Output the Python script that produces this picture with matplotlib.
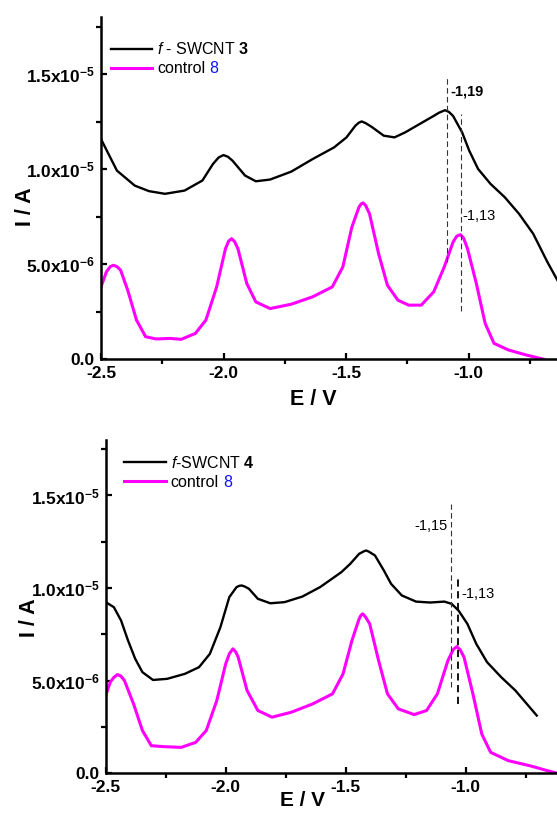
import numpy as np
import matplotlib
matplotlib.use("Agg")
import matplotlib.pyplot as plt
from matplotlib.ticker import MultipleLocator
from matplotlib.lines import Line2D

plt.rcParams['font.family'] = ['Liberation Sans', 'DejaVu Sans']
plt.rcParams['mathtext.fontset'] = 'custom'
plt.rcParams['mathtext.rm'] = 'Liberation Sans'
plt.rcParams['mathtext.it'] = 'Liberation Sans:italic'
plt.rcParams['mathtext.bf'] = 'Liberation Sans:bold'
plt.rcParams['axes.unicode_minus'] = False

# currents are in units of 1e-5 A
# top panel: f-SWCNT 3
top_black_E = [-2.5, -2.435, -2.362, -2.304, -2.239, -2.159, -2.086, -2.043, -2.02, -2.0,
               -1.982, -1.963, -1.912, -1.868, -1.81, -1.723, -1.636, -1.549, -1.498, -1.462,
               -1.448, -1.436, -1.42, -1.396, -1.346, -1.302, -1.259, -1.2, -1.142, -1.12,
               -1.096, -1.08, -1.063, -1.026, -0.997, -0.961, -0.91, -0.852, -0.794, -0.736,
               -0.678, -0.637]
top_black_I = [1.159, 0.993, 0.914, 0.885, 0.871, 0.888, 0.941, 1.028, 1.062, 1.075,
               1.066, 1.045, 0.967, 0.937, 0.946, 0.988, 1.054, 1.115, 1.168, 1.229,
               1.245, 1.252, 1.243, 1.224, 1.177, 1.168, 1.194, 1.238, 1.281, 1.298,
               1.311, 1.302, 1.281, 1.194, 1.098, 1.002, 0.923, 0.853, 0.766, 0.661,
               0.512, 0.416]
top_pink_E = [-2.5, -2.478, -2.462, -2.449, -2.435, -2.42, -2.391, -2.355, -2.318, -2.275,
              -2.217, -2.173, -2.115, -2.072, -2.028, -1.992, -1.979, -1.967, -1.955, -1.941,
              -1.905, -1.868, -1.81, -1.723, -1.636, -1.556, -1.513, -1.476, -1.447, -1.438,
              -1.43, -1.42, -1.404, -1.367, -1.331, -1.288, -1.244, -1.193, -1.142, -1.099,
              -1.063, -1.048, -1.033, -1.02, -1.004, -0.968, -0.932, -0.896, -0.837, -0.765,
              -0.692]
top_pink_I = [0.381, 0.46, 0.488, 0.495, 0.488, 0.469, 0.364, 0.206, 0.119, 0.107,
              0.11, 0.105, 0.136, 0.206, 0.381, 0.582, 0.622, 0.635, 0.62, 0.582,
              0.399, 0.302, 0.267, 0.29, 0.329, 0.381, 0.486, 0.696, 0.801, 0.818,
              0.823, 0.81, 0.766, 0.556, 0.39, 0.311, 0.285, 0.285, 0.355, 0.486,
              0.617, 0.648, 0.656, 0.638, 0.582, 0.399, 0.189, 0.084, 0.049, 0.023,
              0.0]

# bottom panel: f-SWCNT 4
bot_black_E = [-2.5, -2.466, -2.436, -2.407, -2.377, -2.347, -2.303, -2.244, -2.17, -2.111,
               -2.066, -2.022, -1.985, -1.955, -1.944, -1.933, -1.92, -1.903, -1.866, -1.814,
               -1.755, -1.681, -1.607, -1.518, -1.481, -1.444, -1.425, -1.415, -1.404, -1.378,
               -1.341, -1.311, -1.266, -1.207, -1.148, -1.089, -1.059, -1.03, -0.993, -0.956,
               -0.911, -0.852, -0.793, -0.704]
bot_black_I = [0.924, 0.897, 0.825, 0.717, 0.618, 0.546, 0.504, 0.51, 0.537, 0.573,
               0.645, 0.789, 0.951, 1.005, 1.012, 1.014, 1.008, 0.996, 0.942, 0.918,
               0.924, 0.954, 1.005, 1.086, 1.131, 1.185, 1.198, 1.203, 1.197, 1.176,
               1.095, 1.023, 0.96, 0.927, 0.922, 0.927, 0.915, 0.879, 0.807, 0.699,
               0.6, 0.519, 0.447, 0.312]
bot_pink_E = [-2.5, -2.481, -2.466, -2.451, -2.437, -2.422, -2.384, -2.347, -2.31, -2.259,
              -2.185, -2.125, -2.081, -2.037, -2.0, -1.985, -1.97, -1.958, -1.948, -1.911,
              -1.866, -1.807, -1.726, -1.637, -1.555, -1.511, -1.474, -1.444, -1.437, -1.429,
              -1.418, -1.4, -1.363, -1.326, -1.281, -1.215, -1.163, -1.118, -1.074, -1.052,
              -1.037, -1.022, -1.007, -0.97, -0.933, -0.896, -0.822, -0.733, -0.659, -0.618]
bot_pink_I = [0.42, 0.492, 0.518, 0.533, 0.525, 0.501, 0.375, 0.231, 0.149, 0.144,
              0.14, 0.167, 0.231, 0.393, 0.591, 0.645, 0.672, 0.655, 0.627, 0.447,
              0.339, 0.303, 0.33, 0.375, 0.429, 0.537, 0.717, 0.834, 0.852, 0.861,
              0.845, 0.807, 0.609, 0.429, 0.348, 0.317, 0.339, 0.429, 0.609, 0.668,
              0.684, 0.665, 0.627, 0.429, 0.212, 0.113, 0.068, 0.041, 0.014, 0.0]

# dashed marker lines (E, I low, I high)
top_marks_E = [-1.087, -1.029]
top_marks_lo = [0.514, 0.255]
top_marks_hi = [1.482, 1.291]
bot_marks_E = [-1.062, -1.033]
bot_marks_lo = [0.468, 0.374]
bot_marks_hi = [1.452, 1.058]

xtick_vals = [-2.5, -2.0, -1.5, -1.0]
xtick_labels = ["-2.5", "-2.0", "-1.5", "-1.0"]
ytick_vals = [0, 5e-6, 1e-5, 1.5e-5]
ytick_labels = ["0.0", r"$\mathbf{5.0x10}^{\mathbf{-6}}$",
                r"$\mathbf{1.0x10}^{\mathbf{-5}}$", r"$\mathbf{1.5x10}^{\mathbf{-5}}$"]

PINK = '#ff00ff'
W, H = 557, 814

fig = plt.figure(figsize=(W / 100, H / 100), dpi=100)


def setup_axes(ax):
    ax.set_xlim(-2.5, -0.5)
    ax.set_ylim(0, 1.8e-5)
    for s in ['top', 'right']:
        ax.spines[s].set_visible(False)
    for s in ['left', 'bottom']:
        ax.spines[s].set_linewidth(1.8)
    ax.set_xticks(xtick_vals, xtick_labels)
    ax.set_yticks(ytick_vals, ytick_labels)
    ax.xaxis.set_minor_locator(MultipleLocator(0.25))
    ax.yaxis.set_minor_locator(MultipleLocator(2.5e-6))
    ax.tick_params(which='major', direction='in', length=4.2, width=1.6, labelsize=12.5)
    ax.tick_params(which='minor', direction='out', length=3.3, width=1.6)
    ax.tick_params(axis='x', which='major', pad=5)
    ax.tick_params(axis='y', which='major', pad=4.5)
    for lab in ax.get_xticklabels() + ax.get_yticklabels():
        lab.set_fontweight('bold')
    ax.set_xlabel("E / V", fontsize=15.5, fontweight='bold')
    ax.set_ylabel("I / A", fontsize=15.5, fontweight='bold')


def add_legend(ax, label1, anchor):
    handles = [Line2D([], [], color='black', lw=1.7),
               Line2D([], [], color=PINK, lw=2.2)]
    return ax.legend(handles, [label1, "control"], loc='upper left', bbox_to_anchor=anchor,
                     frameon=False, fontsize=11.5, handlelength=2.6, handletextpad=0.3,
                     labelspacing=0.25, borderpad=0, borderaxespad=0)


# ---- top panel
ax1 = fig.add_axes([101 / W, (H - 359.3) / H, 490 / W, 342 / H])
ax1.plot(top_black_E, np.array(top_black_I) * 1e-5, color='black', lw=1.7)
ax1.plot(top_pink_E, np.array(top_pink_I) * 1e-5, color=PINK, lw=2.2)
for e, lo, hi in zip(top_marks_E, top_marks_lo, top_marks_hi):
    ax1.plot([e, e], [lo * 1e-5, hi * 1e-5], color='#333333', lw=0.8, ls=(0, (5, 3)))
ax1.text(-1.074, 1.41e-5, "-1,19", fontsize=10.5, fontweight='bold', va='center', ha='left')
ax1.text(-1.023, 0.756e-5, "-1,13", fontsize=10.5, va='center', ha='left')
setup_axes(ax1)
ax1.xaxis.set_label_coords(0.433, -0.087)
ax1.yaxis.set_label_coords(-0.133, 0.446)
leg1 = add_legend(ax1, r"$\mathit{f}$ - SWCNT $\mathbf{3}$", (0.02, 0.93))

# ---- bottom panel
ax2 = fig.add_axes([105.7 / W, (H - 773.3) / H, 480 / W, 333.4 / H])
ax2.plot(bot_black_E, np.array(bot_black_I) * 1e-5, color='black', lw=1.7)
ax2.plot(bot_pink_E, np.array(bot_pink_I) * 1e-5, color=PINK, lw=2.2)
ax2.plot([bot_marks_E[0]] * 2, [bot_marks_lo[0] * 1e-5, bot_marks_hi[0] * 1e-5],
         color='#333333', lw=0.8, ls=(0, (5, 3)))
ax2.plot([bot_marks_E[1]] * 2, [bot_marks_lo[1] * 1e-5, bot_marks_hi[1] * 1e-5],
         color='black', lw=1.3, ls=(0, (4, 2.5)))
ax2.text(-1.075, 1.335e-5, "-1,15", fontsize=10.5, va='center', ha='right')
ax2.text(-1.020, 0.967e-5, "-1,13", fontsize=10.5, va='center', ha='left')
setup_axes(ax2)
ax2.xaxis.label.set_fontsize(15)
ax2.xaxis.set_label_coords(0.41, -0.054)
ax2.yaxis.set_label_coords(-0.137, 0.466)
leg2 = add_legend(ax2, r"$\mathit{f}$-SWCNT $\mathbf{4}$", (0.039, 0.955))

# blue "8" after the word control in each legend
fig.canvas.draw()
renderer = fig.canvas.get_renderer()
for leg in [leg1, leg2]:
    bb = leg.get_texts()[1].get_window_extent(renderer)
    fig.text((bb.x1 + 4) / W, bb.y0 / H, "8", color='#1010ff', fontsize=11.5,
             va='bottom', ha='left')

fig.savefig("out.png", dpi=100)
